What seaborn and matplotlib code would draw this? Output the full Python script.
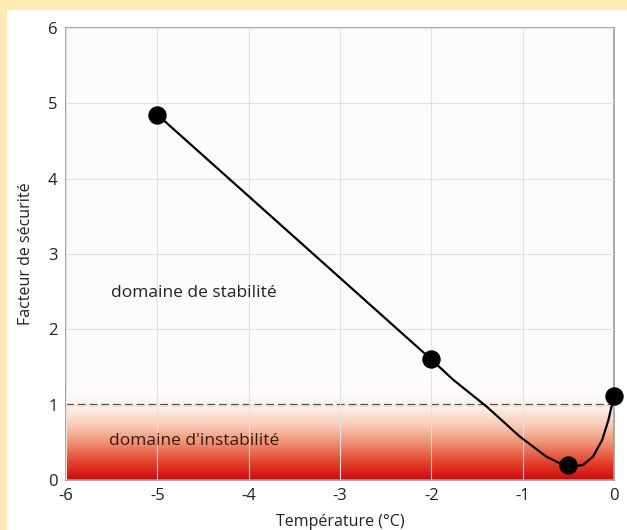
import numpy as np
import matplotlib
matplotlib.use("Agg")
import matplotlib.pyplot as plt
import seaborn as sns
from matplotlib.colors import LinearSegmentedColormap
from matplotlib.patches import Rectangle

# measured points (temperature, safety factor)
temp_pts = [-5.0, -2.0, -0.5, 0.0]
factor_pts = [4.85, 1.6, 0.2, 1.12]

# line
curve_x = [-5.0, -2.0, -1.76, -1.39, -1.03, -0.74, -0.59, -0.5, -0.42, -0.34, -0.23, -0.13, -0.06, 0.0]
curve_y = [4.85, 1.6, 1.33, 0.97, 0.575, 0.31, 0.22, 0.19, 0.185, 0.2, 0.31, 0.53, 0.8, 1.12]

x_ticks = [-6, -5, -4, -3, -2, -1, 0]
y_ticks = [0, 1, 2, 3, 4, 5, 6]

sns.set_style("whitegrid")
plt.rcParams['font.family'] = ['Open Sans', 'DejaVu Sans']
plt.rcParams['axes.unicode_minus'] = False

fig = plt.figure(figsize=(6.27, 5.30), dpi=100)
fig.patch.set_facecolor("#FFEBB3")
# white card inside the yellow border
fig.patches.append(Rectangle((7 / 627, 0), 1, 520 / 530, transform=fig.transFigure,
                             facecolor="white", edgecolor="none", zorder=-1))
ax = fig.add_axes([66 / 627, 50 / 530, 548 / 627, 452 / 530])
ax.set_facecolor("#FCFCFC")

# red gradient for the unstable zone
cmap = LinearSegmentedColormap.from_list("inst", ["#D00808", "#E4452F", "#EF8F70", "#F8CDBB", "#FDF1EC", "#FFFFFF"])
grad = np.linspace(0, 1, 256).reshape(-1, 1)
ax.imshow(grad, extent=[-6, 0, 0, 1.22], origin="lower", cmap=cmap, aspect="auto", zorder=1)

ax.axhline(1, color="#4e423f", linestyle=(0, (3.5, 1.8)), linewidth=1.6, zorder=2)

sns.lineplot(x=curve_x, y=curve_y, ax=ax, color="black", linewidth=1.6, sort=False, zorder=3)
sns.scatterplot(x=temp_pts, y=factor_pts, ax=ax, color="black", s=150, edgecolor="black", zorder=4,
                clip_on=False)

ax.text(-4.6, 2.48, "domaine de stabilité", ha="center", va="center", fontsize=12.5, color="#222222")
ax.text(-4.6, 0.52, "domaine d'instabilité", ha="center", va="center", fontsize=12.5, color="#3a1a10")

ax.set_xlim(-6, 0)
ax.set_ylim(0, 6)
ax.set_xticks(x_ticks)
ax.set_yticks(y_ticks)
ax.grid(True, color="#E2E2E2", linewidth=0.8)
ax.set_axisbelow(False)
for line in ax.get_xgridlines() + ax.get_ygridlines():
    line.set_zorder(1.5)
for s in ax.spines.values():
    s.set_color("#999999")
    s.set_linewidth(1.2)
ax.tick_params(axis="both", labelsize=12, colors="#222222", length=0, pad=6)
ax.set_xlabel("Température (°C)", fontsize=11.5, color="#222222", labelpad=2)
ax.set_ylabel("Facteur de sécurité", fontsize=11.5, color="#222222", labelpad=10)
ax.xaxis.set_label_coords(0.5, -0.075)

fig.savefig("out.png", dpi=100, facecolor=fig.get_facecolor())
